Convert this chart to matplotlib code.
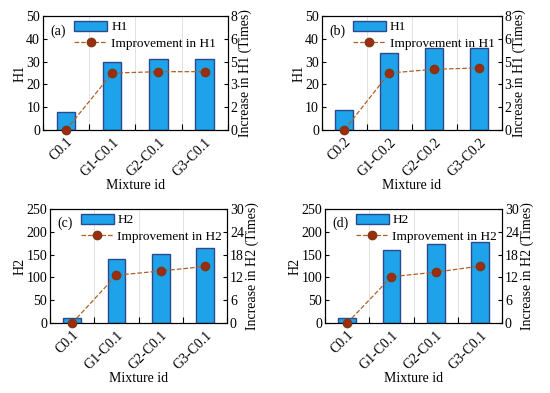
import matplotlib
matplotlib.use("Agg")
import matplotlib.pyplot as plt
import numpy as np
from matplotlib.ticker import FormatStrFormatter

plt.rcParams["font.family"] = ["Liberation Serif", "DejaVu Serif"]
plt.rcParams["font.size"] = 10

# data
mix_01 = ["C0.1", "G1-C0.1", "G2-C0.1", "G3-C0.1"]
mix_02 = ["C0.2", "G1-C0.2", "G2-C0.2", "G3-C0.2"]

h1_a = [8, 30, 31, 31]
imp_h1_a = [0, 4.0, 4.1, 4.1]
h1_b = [9, 34, 36, 36]
imp_h1_b = [0, 4.0, 4.27, 4.36]
h2_c = [10, 140, 151, 164]
imp_h2_c = [0, 12.6, 13.7, 14.9]
h2_d = [11, 160, 173, 178]
imp_h2_d = [0, 12.2, 13.4, 15.0]

BAR_COL = "#1ea3ea"
EDGE_COL = "#2b4a8c"
LINE_COL = "#b0602a"
MK_COL = "#a02a12"

fig = plt.figure(figsize=(5.5, 3.93), dpi=100)


def panel(rect, labels, bars, imp, name, ymax, rmax, tag):
    ax = fig.add_axes(rect)
    x = np.arange(len(labels))
    ax.bar(x, bars, width=0.4, color=BAR_COL, edgecolor=EDGE_COL,
           linewidth=1.0, label=name, zorder=2)
    ax.set_xlim(-0.5, 3.5)
    ax.set_ylim(0, ymax)
    ax.set_yticks(np.linspace(0, ymax, 6))
    ax.set_xticks(np.arange(-0.5, 4.0, 1.0))
    ax.set_xticklabels([])
    ax.set_xticks(x, minor=True)
    ax.set_xticklabels(labels, minor=True, rotation=45, ha="right",
                       rotation_mode="anchor")
    ax.tick_params(axis="x", which="minor", length=0, pad=4)
    ax.tick_params(axis="x", which="major", direction="in", length=4)
    ax.tick_params(axis="y", direction="in", length=3, pad=2)
    ax.grid(axis="x", which="major", color="#dddddd", linewidth=0.6, zorder=0)
    ax.set_ylabel(name, labelpad=0)
    ax.set_xlabel("Mixture id", labelpad=0)

    ax2 = ax.twinx()
    ax2.plot(x, imp, linestyle="--", color=LINE_COL, linewidth=0.9,
             marker="o", markersize=6, markerfacecolor=MK_COL,
             markeredgecolor="#7a3a10", clip_on=False, zorder=3,
             label=f"Improvement in {name}")
    ax2.set_ylim(0, rmax)
    ax2.set_yticks(np.linspace(0, rmax, 6))
    ax2.yaxis.set_major_formatter(FormatStrFormatter("%.0f"))
    ax2.tick_params(axis="y", direction="in", length=3, pad=2)
    ax2.set_ylabel(f"Increase in {name} (Times)", labelpad=1)

    h1, l1 = ax.get_legend_handles_labels()
    h2, l2 = ax2.get_legend_handles_labels()
    ax2.legend(h1 + h2, l1 + l2, loc="upper left", bbox_to_anchor=(0.12, 1.04),
               frameon=False, handlelength=2.5, handleheight=0.8,
               borderpad=0.2, labelspacing=0.3, handletextpad=0.3,
               fontsize=9.5)
    ax.text(0.04, 0.84, tag, transform=ax.transAxes)


panel([0.078, 0.669, 0.336, 0.29], mix_01, h1_a, imp_h1_a, "H1", 50, 8, "(a)")
panel([0.585, 0.669, 0.327, 0.29], mix_02, h1_b, imp_h1_b, "H1", 50, 8, "(b)")
panel([0.091, 0.178, 0.322, 0.29], mix_01, h2_c, imp_h2_c, "H2", 250, 30, "(c)")
panel([0.591, 0.178, 0.322, 0.29], mix_01, h2_d, imp_h2_d, "H2", 250, 30, "(d)")

fig.savefig("out.png", dpi=100)
